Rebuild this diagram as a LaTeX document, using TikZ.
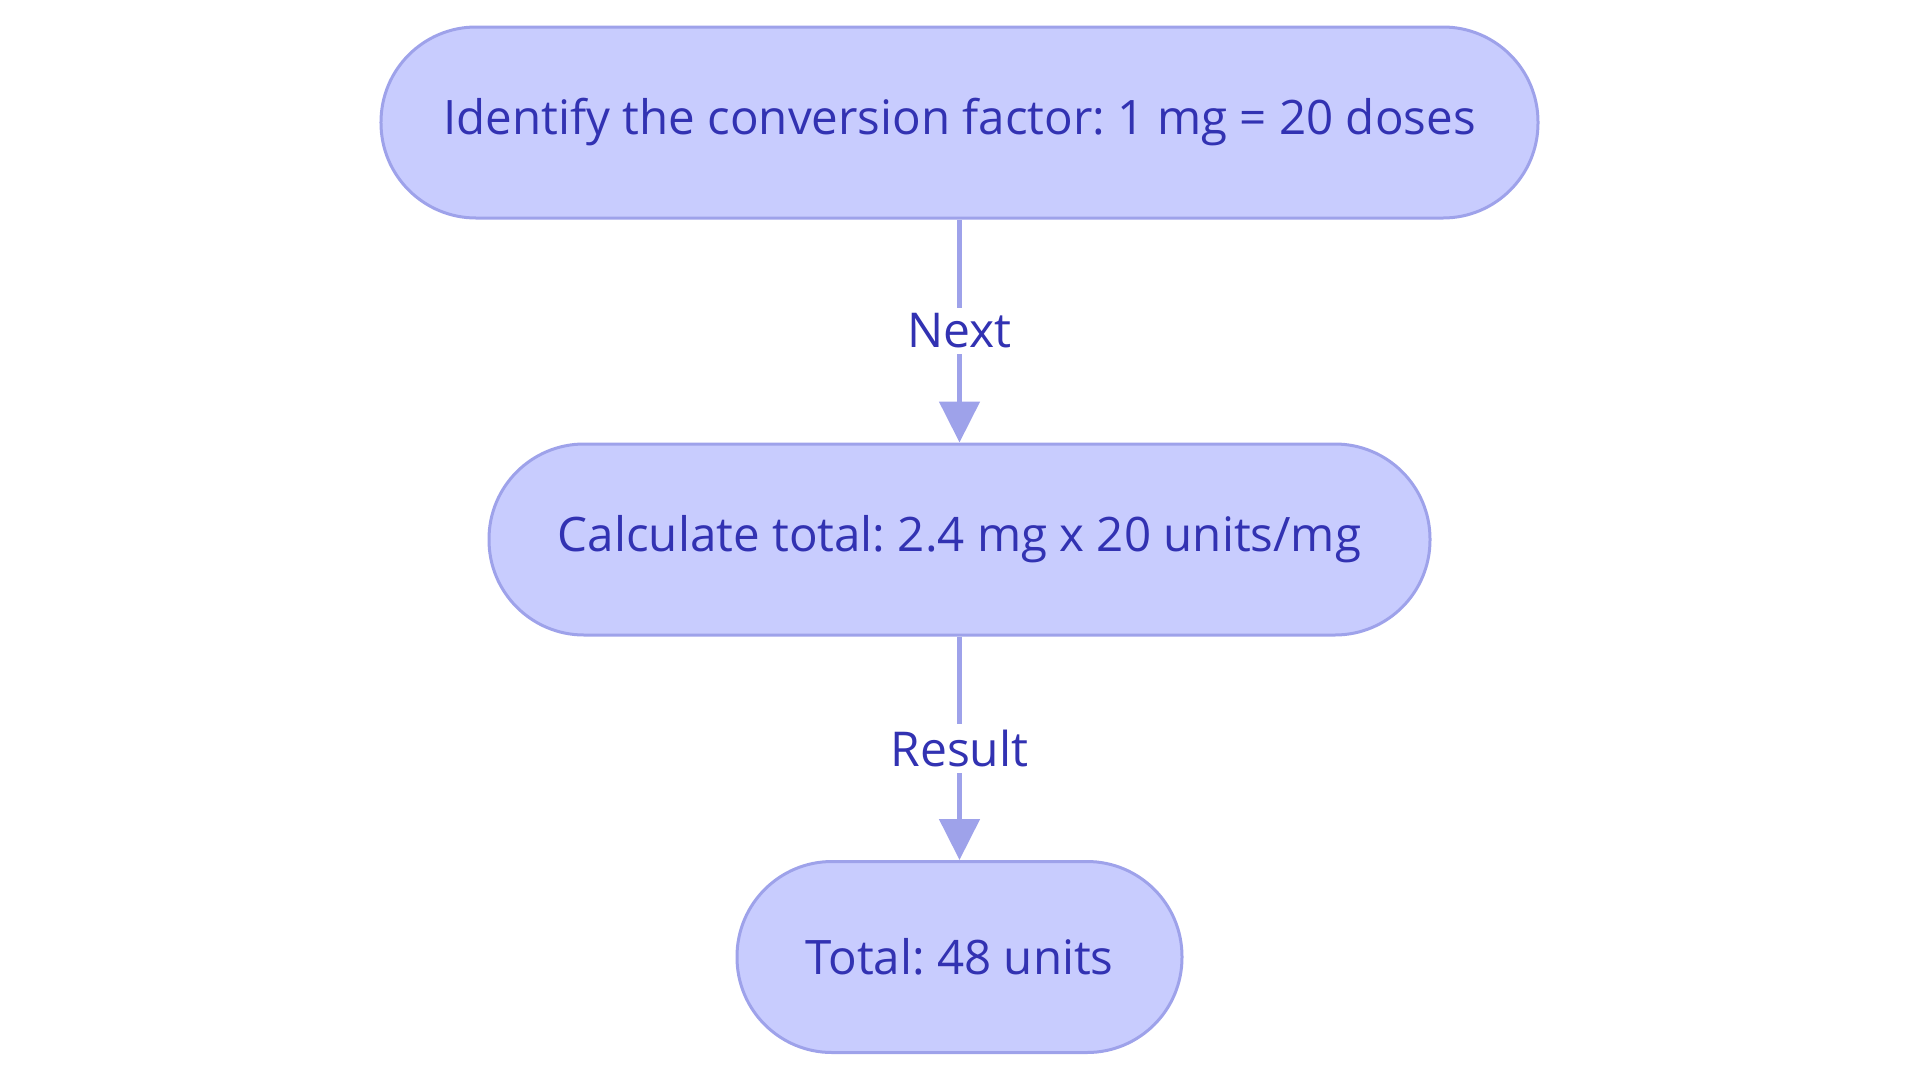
\documentclass[tikz,border=0pt]{standalone}
\usepackage{fontspec}
\setmainfont{Open Sans}
\usetikzlibrary{arrows.meta}
\definecolor{nodefill}{RGB}{200,204,254}
\definecolor{nodeline}{RGB}{158,162,234}
\definecolor{txt}{RGB}{50,50,178}
\tikzset{
  stepbox/.style={draw=nodeline, fill=nodefill, line width=3bp, rounded corners=95bp,
    minimum height=191bp, inner sep=0pt, text=txt, font=\fontsize{47.5bp}{56bp}\selectfont},
  flow/.style={draw=nodeline, line width=5bp, -{Triangle[width=40bp,length=41bp]}},
  lbl/.style={fill=white, text=txt, inner sep=6bp, font=\fontsize{48bp}{56bp}\selectfont}
}
\frenchspacing
\begin{document}
\begin{tikzpicture}[x=1bp,y=-1bp]
\useasboundingbox (0,0) rectangle (1920,1083);
\node[stepbox, minimum width=1157bp] (a) at (959.5,122.5) {\frenchspacing Identify the conversion factor: 1 mg = 20 doses};
\node[stepbox, minimum width=941bp] (b) at (959.5,539.5) {\frenchspacing Calculate total: 2.4 mg x 20 units/mg};
\node[stepbox, minimum width=445bp] (c) at (959.5,957) {\frenchspacing Total: 48 units};
\draw[flow] (a) -- node[lbl] {Next} (b);
\draw[flow] (b) -- node[lbl] {Result} (c);
\end{tikzpicture}
\end{document}
